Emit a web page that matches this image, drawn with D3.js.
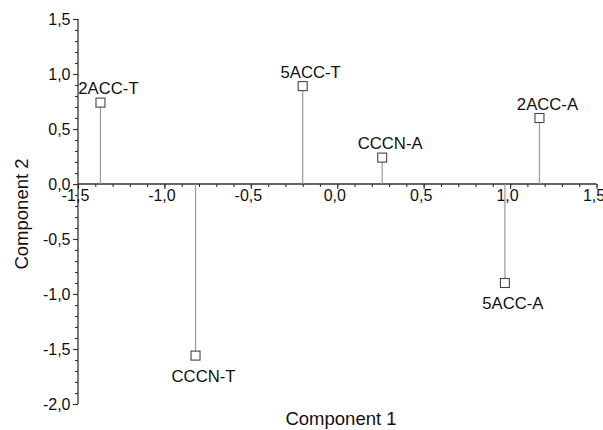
<!DOCTYPE html>
<html><head><meta charset="utf-8">
<script src="https://cdn.jsdelivr.net/npm/d3@7"></script>
<style>body{margin:0;background:#fff}svg{display:block;font-family:"Liberation Sans",Arial,sans-serif}</style>
</head><body><svg id="c" width="603" height="430"></svg>
<script>
const names = ["2ACC-T","5ACC-T","CCCN-A","2ACC-A","5ACC-A","CCCN-T"];
const comp1 = [-1.37,-0.20,0.26,1.17,0.97,-0.82];
const comp2 = [0.74,0.89,0.24,0.60,-0.90,-1.56];
const xTicks = [-1.5,-1.0,-0.5,0.0,0.5,1.0,1.5];
const yTicks = [1.5,1.0,0.5,0.0,-0.5,-1.0,-1.5,-2.0];

const svg = d3.select("#c");
const x = d3.scaleLinear().domain([-1.5,1.5]).range([78,596.5]);
const y = d3.scaleLinear().domain([-2.0,1.5]).range([404,19]);
const fmt = d => d3.format(".1f")(d).replace(".",",").replace("−","-");
const axisColor = "#333";
const FONT = "'Liberation Sans',Arial,sans-serif";

// y axis
const ya = svg.append("g").attr("transform",`translate(${x(-1.5)},0)`)
  .call(d3.axisLeft(y).tickValues(yTicks).tickFormat(fmt).tickSize(5).tickPadding(2.5));
svg.append("g").attr("class","minor").attr("transform",`translate(${x(-1.5)},0)`)
  .call(d3.axisLeft(y).tickValues(d3.range(-20,16).map(v=>v/10)).tickFormat("").tickSize(3))
  .select(".domain").remove();
// x axis
const xa = svg.append("g").attr("transform",`translate(0,${y(0)})`)
  .call(d3.axisBottom(x).tickValues(xTicks).tickFormat(fmt).tickSize(5).tickPadding(1));
svg.append("g").attr("class","minor").attr("transform",`translate(0,${y(0)})`)
  .call(d3.axisBottom(x).tickValues(d3.range(-15,16).map(v=>v/10)).tickFormat("").tickSize(3))
  .select(".domain").remove();
xa.selectAll(".tick text").attr("dx",-3);
svg.selectAll(".tick line").attr("stroke",axisColor).attr("stroke-width",1.1);
svg.selectAll(".tick text").attr("fill","#111").style("font-size","16px").style("font-family",FONT);
ya.select(".domain").attr("stroke",axisColor).attr("stroke-width",1.3).attr("d",`M0,${y(-2)}V${y(1.5)}`);
xa.select(".domain").attr("stroke",axisColor).attr("stroke-width",1.3).attr("d",`M${x(-1.5)},0H${x(1.5)}`);

const data = names.map((n,i)=>({n, a:comp1[i], b:comp2[i]}));
// drop lines
svg.append("g").selectAll("line").data(data).join("line")
  .attr("x1",d=>x(d.a)).attr("x2",d=>x(d.a))
  .attr("y1",y(0)).attr("y2",d=>y(d.b))
  .attr("stroke","#999").attr("stroke-width",1.2);
// markers
const s = 9;
svg.append("g").selectAll("rect").data(data).join("rect")
  .attr("x",d=>x(d.a)-s/2).attr("y",d=>y(d.b)-s/2).attr("width",s).attr("height",s)
  .attr("fill","#fff").attr("stroke","#444").attr("stroke-width",1.1);
// labels
svg.append("g").selectAll("text").data(data).join("text")
  .attr("x",d=>x(d.a)+8).attr("y",d=>d.b>=0 ? y(d.b)-8.5 : y(d.b)+26)
  .attr("text-anchor","middle").attr("fill","#111").style("font-size","16.7px").style("font-family",FONT)
  .text(d=>d.n);
// axis titles
svg.append("text").attr("x",341).attr("y",425).attr("text-anchor","middle")
  .style("font-size","18.5px").style("font-family",FONT).attr("fill","#111").text("Component 1");
svg.append("text").attr("transform","translate(28,214) rotate(-90)").attr("text-anchor","middle")
  .style("font-size","18.5px").style("font-family",FONT).attr("fill","#111").text("Component 2");
</script></body></html>
